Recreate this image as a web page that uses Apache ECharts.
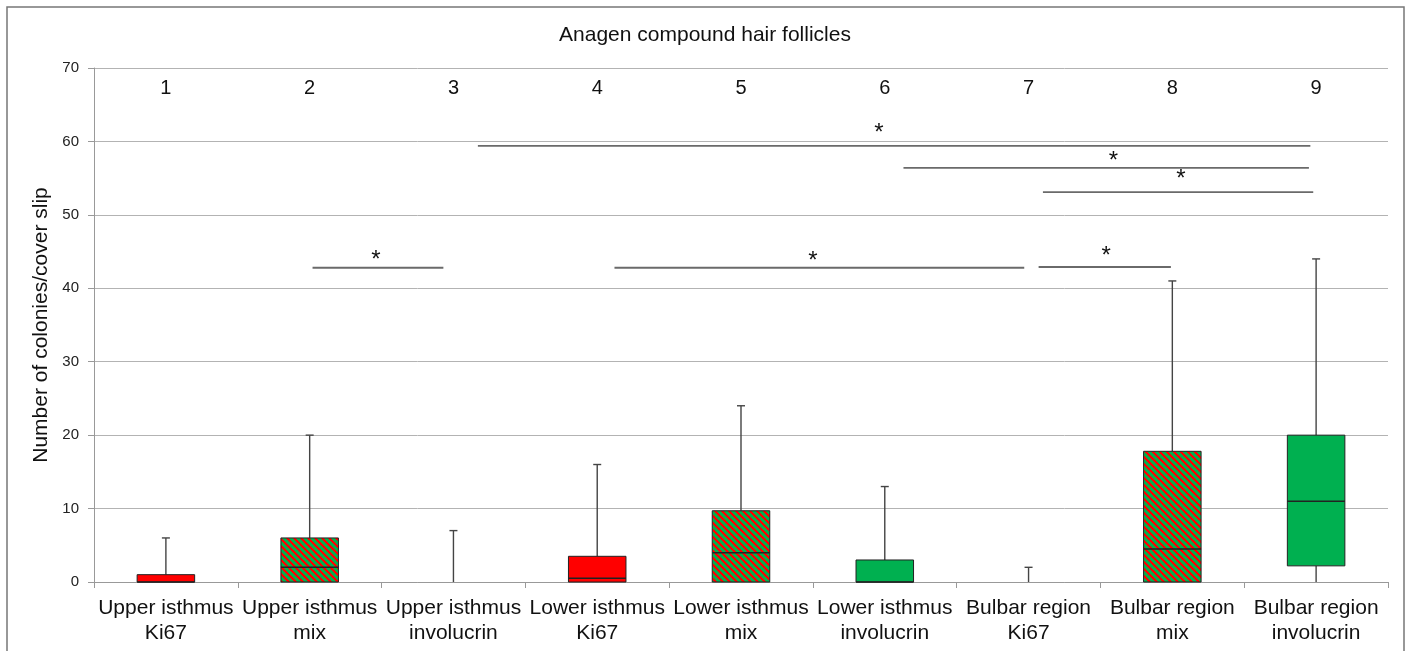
<!DOCTYPE html>
<html>
<head>
<meta charset="utf-8">
<script src="https://cdn.jsdelivr.net/npm/echarts@6/dist/echarts.min.js"></script>
<style>
html,body{margin:0;padding:0;background:#fff;}
#chart{width:1410px;height:651px;}
</style>
</head>
<body>
<div id="chart"></div>
<script>
// ---- data ----
const categories = ['Upper isthmus\nKi67','Upper isthmus\nmix','Upper isthmus\ninvolucrin',
  'Lower isthmus\nKi67','Lower isthmus\nmix','Lower isthmus\ninvolucrin',
  'Bulbar region\nKi67','Bulbar region\nmix','Bulbar region\ninvolucrin'];
const topLabels = ['1','2','3','4','5','6','7','8','9'];
const mins    = [0, 0, 0, 0,   0,   0, 0, 0,    0];
const q1s     = [0, 0, 0, 0,   0,   0, 0, 0,    2.2];
const medians = [0, 2, 0, 0.5, 4,   0, 0, 4.5,  11];
const q3s     = [1, 6, 0, 3.5, 9.7, 3, 0, 17.8, 20];
const maxs    = [6, 20, 7, 16, 24,  13, 2, 41,  44];
// significance brackets (x in category index units)
const sigFrom = [2.17, 5.13, 6.10, 1.02, 3.12, 6.07];
const sigTo   = [7.96, 7.95, 7.98, 1.93, 5.97, 6.99];
const sigY    = [59.4, 56.4, 53.1, 42.8, 42.8, 42.9];
const starX   = [4.96, 6.59, 7.06, 1.46, 4.50, 6.54];
const starY   = [61.1, 57.3, 54.8, 43.8, 43.6, 44.3];

// ---- styles ----
const RED = '#FF0000', GREEN = '#00B050';
function makeHatch(){
  const s = 7;
  const c = document.createElement('canvas');
  c.width = s; c.height = s;
  const ctx = c.getContext('2d');
  for (let y = 0; y < s; y++) {
    for (let x = 0; x < s; x++) {
      const k = ((x - y) % s + s) % s;
      ctx.fillStyle = (k < 3) ? RED : GREEN;
      ctx.fillRect(x, y, 1, 1);
    }
  }
  return c;
}
const hatch = {image: makeHatch(), repeat: 'repeat'};
function fillFor(name){
  if (name.indexOf('mix') >= 0) return hatch;
  if (name.indexOf('Ki67') >= 0) return RED;
  return GREEN;
}

const boxData = categories.map((c,i)=>[i, mins[i], q1s[i], medians[i], q3s[i], maxs[i]]);
const sigData = sigFrom.map((f,i)=>[f, sigTo[i], sigY[i]]);
const starData = starX.map((x,i)=>[x, starY[i]]);

const FONT = '"Liberation Sans", Arial, sans-serif';
const chart = echarts.init(document.getElementById('chart'));
chart.setOption({
  animation: false,
  backgroundColor: '#fff',
  title: {text: 'Anagen compound hair follicles', left: 'center', top: 20,
    textStyle: {fontFamily: FONT, fontSize: 21, fontWeight: 'normal', color: '#111'}},
  graphic: [{type: 'rect', shape: {x: 7, y: 7, width: 1397, height: 700},
    style: {fill: 'none', stroke: '#777', lineWidth: 1.5}, silent: true}],
  grid: {left: 94, right: 22, top: 68, bottom: 69},
  xAxis: [
    {type: 'category', data: categories, position: 'bottom',
      axisLine: {lineStyle: {color: '#999'}},
      axisTick: {show: true, length: 6, lineStyle: {color: '#999'}},
      axisLabel: {interval: 0, fontFamily: FONT, fontSize: 21, color: '#111', margin: 14, lineHeight: 25},
      splitLine: {show: false}},
    {type: 'category', data: topLabels, position: 'top',
      axisLine: {show: false}, axisTick: {show: false},
      axisLabel: {inside: true, interval: 0, fontFamily: FONT, fontSize: 20, color: '#111', margin: 10}},
    {type: 'value', min: -0.5, max: 8.5, show: false}
  ],
  yAxis: {type: 'value', min: 0, max: 70, interval: 10,
    name: 'Number of colonies/cover slip', nameLocation: 'middle', nameGap: 40,
    nameTextStyle: {fontFamily: FONT, fontSize: 21, color: '#111'},
    axisLine: {show: true, onZero: false, lineStyle: {color: '#999'}},
    axisTick: {show: true, length: 6, lineStyle: {color: '#999'}},
    axisLabel: {fontFamily: FONT, fontSize: 15, color: '#222', margin: 15},
    splitLine: {lineStyle: {color: '#b3b3b3'}}},
  series: [
    {type: 'custom', xAxisIndex: 0, data: boxData,
      encode: {x: 0, y: [1,2,3,4,5]},
      renderItem: function(params, api){
        const i = api.value(0);
        const mn = api.value(1), a = api.value(2), md = api.value(3), b = api.value(4), mx = api.value(5);
        const xc = api.coord([i, 0])[0];
        const bw = api.size([1, 0])[0] * 0.4;
        const yMn = api.coord([i, mn])[1], yA = api.coord([i, a])[1], yMd = api.coord([i, md])[1],
              yB = api.coord([i, b])[1], yMx = api.coord([i, mx])[1];
        const wStyle = {stroke: '#444', lineWidth: 1.4};
        const ch = [
          {type: 'line', shape: {x1: xc, y1: yB, x2: xc, y2: yMx}, style: wStyle},
          {type: 'line', shape: {x1: xc - 4, y1: yMx, x2: xc + 4, y2: yMx}, style: wStyle},
          {type: 'line', shape: {x1: xc, y1: yMn, x2: xc, y2: yA}, style: wStyle}
        ];
        if (b > a) {
          ch.push({type: 'rect', shape: {x: xc - bw/2, y: yB, width: bw, height: yA - yB},
            style: {fill: fillFor(categories[i]), stroke: '#222', lineWidth: 1}});
          ch.push({type: 'line', shape: {x1: xc - bw/2, y1: yMd, x2: xc + bw/2, y2: yMd},
            style: {stroke: '#222', lineWidth: 1.5}});
        }
        return {type: 'group', children: ch};
      }},
    {type: 'custom', xAxisIndex: 2, data: sigData, encode: {x: [0,1], y: 2},
      renderItem: function(params, api){
        const p1 = api.coord([api.value(0), api.value(2)]);
        const p2 = api.coord([api.value(1), api.value(2)]);
        return {type: 'line', shape: {x1: p1[0], y1: p1[1], x2: p2[0], y2: p2[1]},
          style: {stroke: '#6a6a6a', lineWidth: 1.8}};
      }},
    {type: 'custom', xAxisIndex: 2, data: starData, encode: {x: 0, y: 1},
      renderItem: function(params, api){
        const p = api.coord([api.value(0), api.value(1)]);
        return {type: 'text', x: p[0], y: p[1],
          style: {text: '*', fontFamily: FONT, fontSize: 24, fill: '#111', align: 'center', verticalAlign: 'middle'}};
      }}
  ]
});
</script>
</body>
</html>
